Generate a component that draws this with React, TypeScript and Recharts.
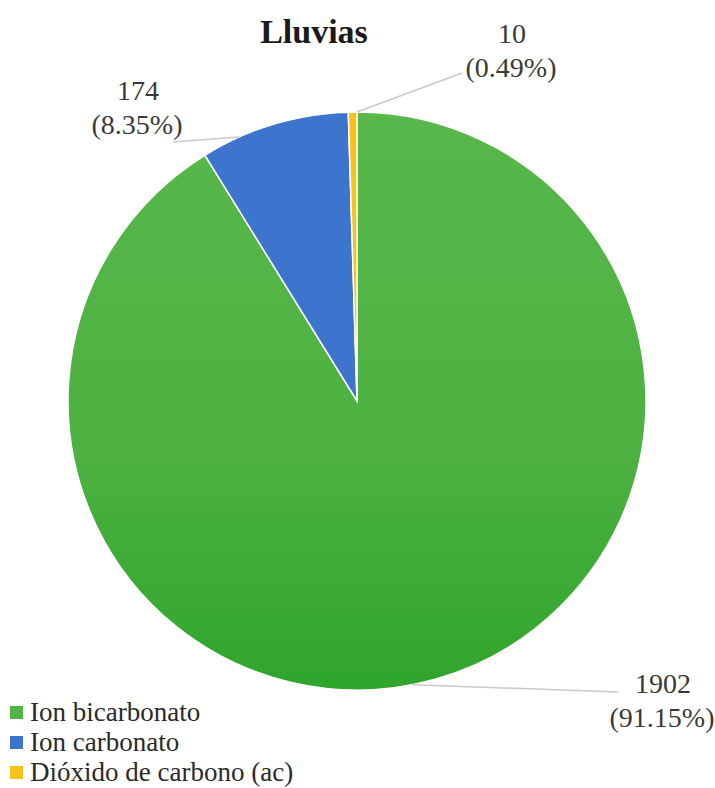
import React from 'react'
import { PieChart, Pie, Cell } from 'recharts'

const categories = ['Ion bicarbonato', 'Ion carbonato', 'Dióxido de carbono (ac)']
const values = [1902, 174, 10]
const percentLabels = ['91.15%', '8.35%', '0.49%']
const colors = ['#52b444', '#3d74cd', '#f6c21c']

// where each leader line touches the pie (degrees) and where its text sits, relative to the centre
const labelLayout = [
  { angle: -79, endX: 261, endY: 291, textX: 306, textY: 282 },
  { angle: 114, endX: -184, endY: -259, textX: -219, textY: -311 },
  { angle: 90, endX: 105, endY: -328, textX: 155, textY: -368 },
]

const FONT = 'Liberation Serif, DejaVu Serif, serif'

const data = categories.map((name, i) => ({ name, value: values[i] }))

const renderLabel = (props: any) => {
  const { cx, cy, outerRadius, index } = props
  const l = labelLayout[index]
  const rad = Math.PI / 180
  const sx = cx + outerRadius * Math.cos(-l.angle * rad)
  const sy = cy + outerRadius * Math.sin(-l.angle * rad)
  return (
    <g>
      <polyline
        points={`${sx},${sy} ${cx + l.endX},${cy + l.endY}`}
        stroke="#c9c9c9"
        strokeWidth={1.5}
        fill="none"
      />
      <text
        x={cx + l.textX}
        y={cy + l.textY}
        textAnchor="middle"
        dominantBaseline="central"
        fill="#3a3a3a"
        fontSize={28}
        fontFamily={FONT}
      >
        {values[index]}
      </text>
      <text
        x={cx + l.textX - 1}
        y={cy + l.textY + 34}
        textAnchor="middle"
        dominantBaseline="central"
        fill="#3a3a3a"
        fontSize={28}
        fontFamily={FONT}
      >
        ({percentLabels[index]})
      </text>
    </g>
  )
}

export default function App() {
  return (
    <div style={{ position: 'absolute', left: 0, top: 0, width: 715, height: 788, background: '#fff', fontFamily: FONT }}>
      <PieChart width={715} height={788} margin={{ top: 0, right: 0, bottom: 0, left: 0 }}>
        <defs>
          <linearGradient id="greenFill" x1="0" y1="0" x2="0" y2="1">
            <stop offset="0%" stopColor="#58b84b" />
            <stop offset="60%" stopColor="#4cb140" />
            <stop offset="100%" stopColor="#2fa52c" />
          </linearGradient>
        </defs>
        <Pie
          data={data}
          dataKey="value"
          nameKey="name"
          cx={357}
          cy={401}
          outerRadius={289}
          startAngle={90}
          endAngle={-270}
          stroke="#ffffff"
          strokeWidth={1.5}
          label={renderLabel}
          labelLine={false}
          isAnimationActive={false}
        >
          {data.map((entry, index) => (
            <Cell key={`cell-${index}`} fill={index === 0 ? 'url(#greenFill)' : colors[index]} />
          ))}
        </Pie>
      </PieChart>

      {/* titulo */}
      <div
        style={{
          position: 'absolute',
          left: 214,
          width: 200,
          top: 12,
          textAlign: 'center',
          fontSize: 34,
          fontWeight: 'bold',
          color: '#1a1a1a',
          lineHeight: '40px',
        }}
      >
        Lluvias
      </div>

      {/* leyenda */}
      <div style={{ position: 'absolute', left: 10, top: 697 }}>
        {categories.map((c, i) => (
          <div key={c} style={{ display: 'flex', alignItems: 'center', height: 30, fontSize: 27, color: '#2a2a2a' }}>
            <span style={{ display: 'inline-block', width: 13, height: 13, background: colors[i], marginRight: 7 }} />
            {c}
          </div>
        ))}
      </div>
    </div>
  )
}
